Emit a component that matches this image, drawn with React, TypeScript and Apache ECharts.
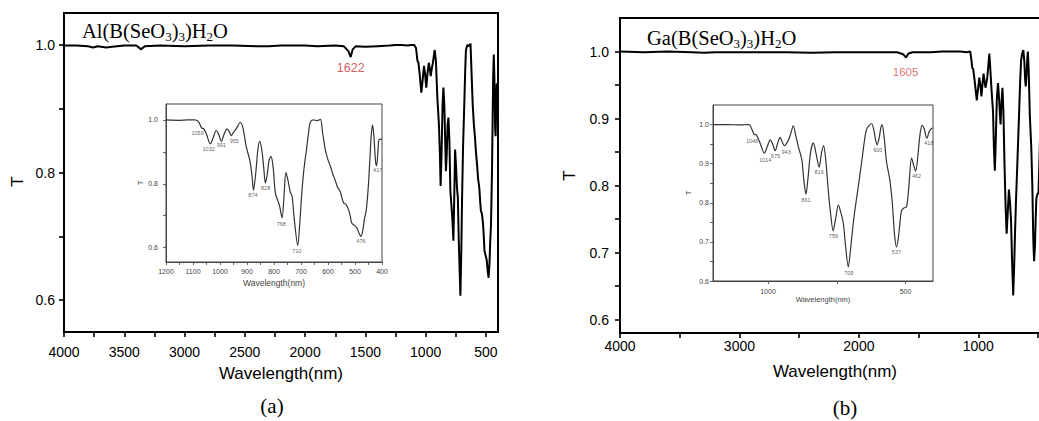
import React, { useEffect, useRef } from "react";
import * as echarts from "echarts";

// ---------- Data: Al(B(SeO3)3)H2O ----------
const alBaseWl = [4000, 3900, 3800, 3760, 3720, 3650, 3600, 3500, 3400, 3360, 3330, 3200, 3000, 2800, 2600, 2400, 2300, 2200, 2000, 1900, 1750, 1680, 1640, 1622, 1605, 1580, 1500, 1400, 1300, 1250, 1210];
const alBaseT = [0.999, 0.999, 0.998, 0.996, 0.998, 0.996, 0.997, 0.999, 0.999, 0.993, 0.998, 0.999, 0.998, 0.999, 0.999, 0.998, 0.998, 0.999, 0.999, 0.998, 0.999, 0.998, 0.99, 0.981, 0.993, 0.998, 0.997, 0.998, 0.999, 1.0, 1.0];
const alBandWl = [1200, 1150, 1120, 1095, 1080, 1068, 1060, 1050, 1036, 1025, 1014, 1005, 995, 985, 974, 965, 958, 950, 940, 925, 915, 903, 890, 882, 876, 868, 860, 853, 845, 838, 832, 825, 818, 811, 803, 795, 785, 779, 770, 763, 756, 748, 740, 733, 725, 712, 705, 698, 690, 680, 672, 666, 655, 640, 628, 620, 610, 600, 591, 582, 574, 565, 555, 548, 542, 533, 524, 518, 512, 500, 493, 485, 478, 470, 465, 458, 450, 445, 440, 435, 430, 424, 420, 415, 411, 400];
const alBandT = [1.0, 0.999, 1.0, 1.0, 0.995, 0.975, 0.972, 0.955, 0.925, 0.945, 0.967, 0.955, 0.933, 0.955, 0.972, 0.962, 0.951, 0.962, 0.972, 0.992, 0.975, 0.917, 0.875, 0.83, 0.779, 0.83, 0.905, 0.933, 0.905, 0.85, 0.802, 0.83, 0.875, 0.886, 0.85, 0.771, 0.745, 0.729, 0.693, 0.76, 0.836, 0.81, 0.775, 0.761, 0.69, 0.607, 0.67, 0.76, 0.839, 0.905, 0.96, 0.992, 1.0, 0.998, 1.002, 0.96, 0.907, 0.875, 0.855, 0.83, 0.813, 0.79, 0.776, 0.755, 0.74, 0.735, 0.719, 0.7, 0.677, 0.668, 0.662, 0.645, 0.635, 0.66, 0.69, 0.719, 0.8, 0.875, 0.95, 0.985, 0.95, 0.87, 0.857, 0.9, 0.938, 0.94];
const alPeakWl = [1083, 1042, 995, 947, 878, 831, 773, 715, 478, 416];
const alPeakT = [0.958, 0.91, 0.922, 0.935, 0.764, 0.786, 0.675, 0.591, 0.62, 0.844];
const alPeakText = ["1059", "1032", "991", "955", "874", "828", "768", "710", "476", "417"];

// ---------- Data: Ga(B(SeO3)3)H2O ----------
const gaBaseWl = [4000, 3800, 3600, 3400, 3300, 3200, 3000, 2800, 2600, 2400, 2200, 2000, 1800, 1680, 1630, 1605, 1585, 1550, 1400, 1300, 1210];
const gaBaseT = [1.0, 0.999, 1.0, 0.999, 0.998, 0.999, 0.999, 0.999, 0.999, 0.998, 0.999, 0.999, 0.999, 0.999, 0.996, 0.991, 0.997, 0.999, 0.999, 1.0, 1.0];
const gaBandWl = [1200, 1150, 1100, 1068, 1060, 1050, 1043, 1030, 1013, 1002, 992, 983, 974, 965, 956, 948, 940, 926, 918, 908, 900, 890, 877, 870, 862, 855, 845, 835, 825, 814, 806, 798, 790, 781, 772, 763, 755, 744, 735, 726, 718, 708, 700, 692, 684, 672, 660, 650, 642, 632, 623, 615, 608, 603, 596, 590, 585, 578, 569, 557, 548, 540, 533, 526, 520, 514, 505, 496, 488, 478, 470, 463, 455, 448, 440, 432, 426, 422, 414, 402, 400];
const gaBandT = [1.0, 1.0, 0.999, 1.0, 0.99, 0.975, 0.974, 0.955, 0.927, 0.945, 0.961, 0.95, 0.933, 0.952, 0.967, 0.955, 0.946, 0.96, 0.975, 0.997, 0.975, 0.944, 0.91, 0.86, 0.822, 0.86, 0.93, 0.953, 0.925, 0.891, 0.925, 0.946, 0.91, 0.833, 0.77, 0.728, 0.755, 0.794, 0.775, 0.747, 0.69, 0.636, 0.68, 0.735, 0.781, 0.84, 0.901, 0.955, 0.987, 0.998, 1.002, 0.985, 0.958, 0.948, 0.965, 0.99, 1.0, 0.97, 0.905, 0.858, 0.8, 0.72, 0.687, 0.71, 0.75, 0.781, 0.787, 0.79, 0.84, 0.914, 0.895, 0.881, 0.92, 0.97, 0.998, 0.99, 0.97, 0.965, 0.982, 0.991, 0.991];
const gaPeakWl = [1058, 1010, 973, 934, 862, 814, 762, 706, 601, 533, 460, 415];
const gaPeakT = [0.958, 0.91, 0.92, 0.931, 0.807, 0.878, 0.715, 0.621, 0.934, 0.674, 0.869, 0.953];
const gaPeakText = ["1046", "1014", "975", "943", "861", "816", "759", "709", "600", "537", "462", "418"];

// main-plot annotations
const alMainPeak = [1622, 0.964, "1622"];
const gaMainPeak = [1609, 0.97, "1605"];

// ---------- Ticks ----------
const aMainXTicks = [4000, 3750, 3500, 3250, 3000, 2750, 2500, 2250, 2000, 1750, 1500, 1250, 1000, 750, 500];
const aMainXLabels = [4000, 3500, 3000, 2500, 2000, 1500, 1000, 500];
const aMainYTicks = [0.6, 0.7, 0.8, 0.9, 1.0];
const aMainYLabels = [0.6, 0.8, 1.0];
const aInsetXTicks = [1200, 1150, 1100, 1050, 1000, 950, 900, 850, 800, 750, 700, 650, 600, 550, 500, 450, 400];
const aInsetXLabels = [1200, 1100, 1000, 900, 800, 700, 600, 500, 400];
const aInsetYTicks = [0.6, 0.7, 0.8, 0.9, 1.0];
const aInsetYLabels = [0.6, 0.8, 1.0];
const bMainXTicks = [4000, 3500, 3000, 2500, 2000, 1500, 1000, 500];
const bMainXLabels = [4000, 3000, 2000, 1000];
const bMainYTicks = [0.6, 0.65, 0.7, 0.75, 0.8, 0.85, 0.9, 0.95, 1.0];
const bMainYLabels = [0.6, 0.7, 0.8, 0.9, 1.0];
const bInsetXTicks = [1000, 750, 500];
const bInsetXLabels = [1000, 500];
const bInsetYTicks = [0.6, 0.65, 0.7, 0.75, 0.8, 0.85, 0.9, 0.95, 1.0];
const bInsetYLabels = [0.6, 0.7, 0.8, 0.9, 1.0];

const SANS = "'Liberation Sans', Arial, sans-serif";
const SERIF = "'Liberation Serif', 'Times New Roman', serif";

const pairs = (wl: number[], t: number[]) => wl.map((w, i) => [w, t[i]]);

function xAxis(grid: number, o: any) {
  return {
    type: "value",
    gridIndex: grid,
    inverse: true,
    min: 400,
    max: o.max,
    splitLine: { show: false },
    axisLine: { show: true, lineStyle: { color: o.color, width: o.lw } },
    axisTick: { show: true, customValues: o.ticks, length: o.tl, lineStyle: { color: o.color, width: o.lw * 0.8 } },
    axisLabel: {
      customValues: o.labels,
      fontSize: o.fs,
      color: o.color,
      margin: o.margin,
      fontFamily: SANS,
      formatter: (v: number) => String(Math.round(v)),
    },
    name: "Wavelength(nm)",
    nameLocation: "middle",
    nameGap: o.nameGap,
    nameTextStyle: { fontSize: o.nfs, color: o.color, fontFamily: SANS },
  };
}

function yAxis(grid: number, o: any) {
  return {
    type: "value",
    gridIndex: grid,
    min: o.min,
    max: 1.05,
    splitLine: { show: false },
    axisLine: { show: true, lineStyle: { color: o.color, width: o.lw } },
    axisTick: { show: true, customValues: o.ticks, length: o.tl, lineStyle: { color: o.color, width: o.lw * 0.8 } },
    axisLabel: {
      customValues: o.labels,
      fontSize: o.fs,
      color: o.color,
      margin: o.margin,
      fontFamily: SANS,
      formatter: (v: number) => v.toFixed(1),
    },
    name: "T",
    nameLocation: "middle",
    nameGap: o.nameGap,
    nameTextStyle: { fontSize: o.nfs, color: o.color, fontFamily: SANS, padding: o.npad || 0 },
  };
}

function peakSeries(idx: number, wl: number[], t: number[], txt: string[], fs: number, color: string) {
  return {
    type: "scatter",
    xAxisIndex: idx,
    yAxisIndex: idx,
    symbolSize: 0,
    silent: true,
    data: wl.map((w, i) => ({ value: [w, t[i]], name: txt[i] })),
    label: { show: true, position: "inside", formatter: "{b}", fontSize: fs, color, fontFamily: SANS },
    z: 5,
  };
}

function formula(prefix: string) {
  return `{n|${prefix}(B(SeO}{s|3}{n|)}{s|3}{n|)H}{s|2}{n|O}`;
}

export default function App() {
  const ref = useRef<HTMLDivElement>(null);
  useEffect(() => {
    if (!ref.current) return;
    const chart = echarts.init(ref.current, undefined, { renderer: "svg" });
    const alMain = pairs(alBaseWl, alBaseT).concat(pairs(alBandWl, alBandT));
    const gaMain = pairs(gaBaseWl, gaBaseT).concat(pairs(gaBandWl, gaBandT));
    const rich = {
      n: { fontSize: 20.5, lineHeight: 24, fontFamily: SERIF, color: "#000" },
      s: { fontSize: 13, lineHeight: 13, verticalAlign: "bottom", fontFamily: SERIF, color: "#000" },
    };
    chart.setOption({
      animation: false,
      backgroundColor: "#fff",
      grid: [
        { left: 64, top: 13, width: 434, height: 319, show: true, borderColor: "#000", borderWidth: 2, backgroundColor: "transparent" },
        { left: 166, top: 104, width: 216, height: 158, show: true, borderColor: "#444", borderWidth: 1, backgroundColor: "#fff" },
        { left: 620, top: 18, width: 430, height: 315, show: true, borderColor: "#000", borderWidth: 2, backgroundColor: "transparent" },
        { left: 713, top: 105, width: 220, height: 176, show: true, borderColor: "#444", borderWidth: 1, backgroundColor: "#fff" },
      ],
      xAxis: [
        xAxis(0, { max: 4000, color: "#000", lw: 2, tl: 5, ticks: aMainXTicks, labels: aMainXLabels, fs: 14, margin: 13, nameGap: 33, nfs: 17 }),
        xAxis(1, { max: 1200, color: "#444", lw: 1, tl: 3, ticks: aInsetXTicks, labels: aInsetXLabels, fs: 7, margin: 6, nameGap: 16, nfs: 8.5 }),
        xAxis(2, { max: 4000, color: "#000", lw: 2, tl: 5, ticks: bMainXTicks, labels: bMainXLabels, fs: 14, margin: 6, nameGap: 30, nfs: 17 }),
        xAxis(3, { max: 1200, color: "#444", lw: 1, tl: 3, ticks: bInsetXTicks, labels: bInsetXLabels, fs: 7, margin: 7, nameGap: 12, nfs: 7.5 }),
      ],
      yAxis: [
        yAxis(0, { min: 0.55, color: "#000", lw: 2, tl: 5, ticks: aMainYTicks, labels: aMainYLabels, fs: 14, margin: 9, nameGap: 38, nfs: 17, npad: [0, 18, 0, 0] }),
        yAxis(1, { min: 0.555, color: "#444", lw: 1, tl: 3, ticks: aInsetYTicks, labels: aInsetYLabels, fs: 7, margin: 8, nameGap: 22, nfs: 7.5 }),
        yAxis(2, { min: 0.58, color: "#000", lw: 2, tl: 5, ticks: bMainYTicks, labels: bMainYLabels, fs: 14, margin: 11, nameGap: 42, nfs: 17 }),
        yAxis(3, { min: 0.6, color: "#444", lw: 1, tl: 3, ticks: bInsetYTicks, labels: bInsetYLabels, fs: 7, margin: 4, nameGap: 21, nfs: 7.5 }),
      ],
      series: [
        { type: "line", xAxisIndex: 0, yAxisIndex: 0, data: alMain, showSymbol: false, lineStyle: { color: "#000", width: 2 }, z: 3 },
        { type: "line", xAxisIndex: 1, yAxisIndex: 1, data: pairs(alBandWl, alBandT), showSymbol: false, smooth: 0.3, lineStyle: { color: "#333", width: 1.2 }, z: 3 },
        { type: "line", xAxisIndex: 2, yAxisIndex: 2, data: gaMain, showSymbol: false, lineStyle: { color: "#000", width: 2 }, z: 3 },
        { type: "line", xAxisIndex: 3, yAxisIndex: 3, data: pairs(gaBandWl, gaBandT), showSymbol: false, smooth: 0.3, lineStyle: { color: "#333", width: 1.2 }, z: 3 },
        peakSeries(1, alPeakWl, alPeakT, alPeakText, 5.5, "#333"),
        peakSeries(3, gaPeakWl, gaPeakT, gaPeakText, 5.5, "#333"),
        peakSeries(0, [alMainPeak[0] as number], [alMainPeak[1] as number], [alMainPeak[2] as string], 12.5, "#cc3333"),
        peakSeries(2, [gaMainPeak[0] as number], [gaMainPeak[1] as number], [gaMainPeak[2] as string], 11.5, "#d64b4b"),
      ],
      graphic: [
        { type: "text", x: 82, y: 19, style: { text: formula("Al"), rich } },
        { type: "text", x: 647, y: 26, style: { text: formula("Ga"), rich } },
        { type: "text", x: 272, y: 406, style: { text: "(a)", font: `21px ${SERIF}`, fill: "#000", align: "center", verticalAlign: "middle" } },
        { type: "text", x: 845, y: 408, style: { text: "(b)", font: `21px ${SERIF}`, fill: "#000", align: "center", verticalAlign: "middle" } },
      ],
    });
    return () => chart.dispose();
  }, []);
  return (
    <div style={{ position: "fixed", left: 0, top: 0, width: 1039, height: 421, overflow: "hidden", background: "#fff" }}>
      <div ref={ref} style={{ width: 1080, height: 421 }} />
    </div>
  );
}
